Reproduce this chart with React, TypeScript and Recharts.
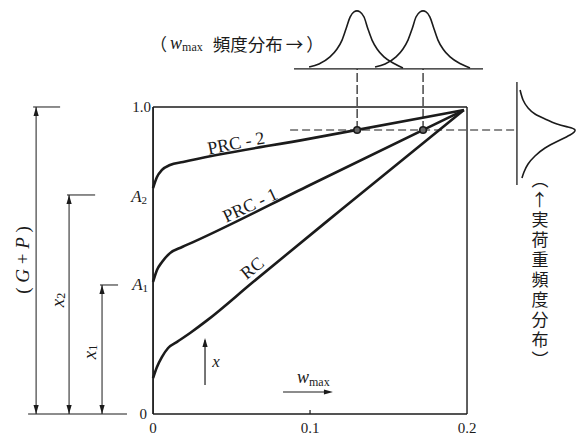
import React from "react";
import { ComposedChart, Line, XAxis, YAxis, ReferenceLine, ReferenceDot } from "recharts";

const W = 578;
const H = 437;
const SERIF = "'Liberation Serif', 'DejaVu Serif', serif";
const CJK = "'Noto Sans CJK JP', 'Noto Sans CJK SC', sans-serif";
const INK = "#1b1b1b";

// the whole canvas is one coordinate system (x = w_max, y = x/(G+P))
const X_DOMAIN = [-0.0975, 0.2707];
const Y_DOMAIN = [0, 1.3485];
const xTicks = [0, 0.1, 0.2];

// curves
const rcX = [0, 0.0025, 0.0057, 0.0096, 0.0153, 0.0236, 0.0344, 0.0637, 0.12, 0.198];
const rcY = [0.117, 0.153, 0.186, 0.215, 0.235, 0.264, 0.305, 0.43, 0.666, 0.99];
const prc1X = [0, 0.0025, 0.0057, 0.0108, 0.0185, 0.0255, 0.1, 0.198];
const prc1Y = [0.43, 0.469, 0.495, 0.524, 0.544, 0.56, 0.746, 0.99];
const prc2X = [0, 0.0025, 0.0057, 0.0108, 0.0191, 0.1, 0.198];
const prc2Y = [0.736, 0.772, 0.795, 0.811, 0.821, 0.897, 0.99];

// w_max frequency distributions (top)
const bellY = [1.13, 1.14, 1.163, 1.189, 1.218, 1.254, 1.293, 1.31, 1.313, 1.31, 1.293, 1.254, 1.218, 1.189, 1.163, 1.14, 1.127];
const bellAX = [0.0994, 0.1057, 0.1127, 0.1172, 0.1204, 0.1229, 0.1255, 0.128, 0.1299, 0.1318, 0.1344, 0.1369, 0.1395, 0.1427, 0.1471, 0.1541, 0.1592];
const bellBX = [0.1414, 0.1478, 0.1548, 0.1592, 0.1624, 0.165, 0.1675, 0.1701, 0.172, 0.1739, 0.1764, 0.179, 0.1815, 0.1847, 0.1892, 0.1962, 0.2019];

// actual load frequency distribution (right, sideways)
const loadX = [0.2338, 0.2357, 0.2389, 0.2433, 0.2497, 0.2573, 0.2643, 0.2688, 0.2656, 0.258, 0.2497, 0.2433, 0.2389, 0.2363, 0.235];
const loadY = [1.0554, 1.0228, 0.9967, 0.9772, 0.9609, 0.9446, 0.9349, 0.9251, 0.9088, 0.8893, 0.8664, 0.8404, 0.8143, 0.7883, 0.7687];

const rows = (xs: number[], ys: number[]) => xs.map((x, i) => ({ x, y: ys[i] }));

const loadLevel = 0.925;
const hitX = [0.13, 0.172];
const topBase = 1.124;

// dimension lines at the left: [x, top, tickFrom, tickTo]
const dims = [
  [-0.0745, 1.0, -0.0764, -0.0592],
  [-0.0535, 0.7134, -0.0548, -0.0369],
  [-0.0325, 0.4202, -0.0338, -0.0223],
];

const arrowHead = (dir: string) => (p: any) => {
  const { cx, cy } = p;
  const L = 9;
  const w = 2.6;
  let d = "";
  if (dir === "up") d = `M${cx},${cy} L${cx - w},${cy + L} L${cx + w},${cy + L} Z`;
  if (dir === "down") d = `M${cx},${cy} L${cx - w},${cy - L} L${cx + w},${cy - L} Z`;
  if (dir === "right") d = `M${cx},${cy} L${cx - L},${cy - w} L${cx - L},${cy + w} Z`;
  return <path d={d} fill={INK} />;
};

const seg = (x1: number, y1: number, x2: number, y2: number, key: string, w = 1, dash?: string) => (
  <ReferenceLine
    key={key}
    segment={[{ x: x1, y: y1 }, { x: x2, y: y2 }]}
    stroke={INK}
    strokeWidth={w}
    strokeDasharray={dash}
    ifOverflow="visible"
  />
);

const note = (x: number, y: number, key: string, draw: (cx: number, cy: number) => React.ReactElement) => (
  <ReferenceDot key={key} x={x} y={y} r={1} ifOverflow="visible" shape={(p: any) => draw(p.cx, p.cy)} />
);

const arrow = (x: number, y: number, dir: string, key: string) => (
  <ReferenceDot key={key} x={x} y={y} r={1} ifOverflow="visible" shape={arrowHead(dir)} />
);

const curveLabels = [
  { t: "PRC - 2", x: 0.0529, y: 0.8827, a: -11 },
  { t: "PRC - 1", x: 0.0618, y: 0.6808, a: -25 },
  { t: "RC", x: 0.0631, y: 0.4756, a: -39 },
];

const yLabels = [
  { v: 1.0, t: "1.0", sub: "", dx: -2 },
  { v: 0, t: "0", sub: "", dx: -6 },
  { v: 0.71, t: "A", sub: "2", dx: -6 },
  { v: 0.423, t: "A", sub: "1", dx: -5 },
];

const sideText = "（←実荷重頻度分布）";

const curveProps = {
  dataKey: "y",
  stroke: INK,
  dot: false,
  activeDot: false,
  isAnimationActive: false,
};

export default function App() {
  return (
    <div style={{ width: W, height: H, background: "#fff" }}>
      <style>{"body{margin:0}"}</style>
      <ComposedChart width={W} height={H} margin={{ top: 0, right: 0, bottom: 0, left: 0 }}>
        <XAxis
          type="number"
          dataKey="x"
          domain={X_DOMAIN}
          ticks={xTicks}
          interval={0}
          height={23}
          axisLine={false}
          tickLine={false}
          tick={{ fill: INK, fontSize: 15, fontFamily: SERIF }}
          tickFormatter={(v) => (v === 0 ? "0" : Number(v).toFixed(1))}
        />
        <YAxis type="number" domain={Y_DOMAIN} hide />

        {/* frame */}
        {seg(0, 0, 0, 1, "fl", 1.8)}
        {seg(0, 1, 0.2, 1, "ft", 1.4)}
        {seg(0.2, 0, 0.2, 1, "fr", 1.4)}
        {seg(0, 0, 0.2, 0, "fb", 1.6)}
        {seg(0.1, 0, 0.1, 0.013, "t01", 1.2)}

        {/* dashed guides */}
        {seg(0.0873, loadLevel, 0.2318, loadLevel, "hl", 1.2, "8 4")}
        {hitX.map((x, i) => seg(x, loadLevel, x, topBase, `vd${i}`, 1.2, "9 3"))}

        {/* distributions */}
        {seg(0.0898, topBase, 0.2102, topBase, "tb", 1.3)}
        {seg(0.2318, 0.7459, 0.2318, 1.0814, "rb", 1.3)}
        <Line {...curveProps} data={rows(bellAX, bellY)} type="monotoneX" strokeWidth={1.6} />
        <Line {...curveProps} data={rows(bellBX, bellY)} type="monotoneX" strokeWidth={1.6} />
        <Line {...curveProps} data={rows(loadX, loadY)} type="natural" strokeWidth={1.6} />

        {/* curves */}
        <Line {...curveProps} data={rows(rcX, rcY)} type="monotoneX" strokeWidth={2.6} />
        <Line {...curveProps} data={rows(prc1X, prc1Y)} type="monotoneX" strokeWidth={2.6} />
        <Line {...curveProps} data={rows(prc2X, prc2Y)} type="monotoneX" strokeWidth={2.6} />

        {hitX.map((x, i) => (
          <ReferenceDot key={`hit${i}`} x={x} y={loadLevel} r={3.3} fill="#666" stroke={INK} strokeWidth={1.6} ifOverflow="visible" />
        ))}

        {/* dimension lines */}
        {seg(-0.0796, 0, -0.0166, 0, "db", 1)}
        {dims.map((d, i) => seg(d[0], 0, d[0], d[1], `dv${i}`, 1))}
        {dims.map((d, i) => seg(d[2], d[1], d[3], d[1], `dt${i}`, 1))}
        {dims.map((d, i) => arrow(d[0], d[1], "up", `au${i}`))}
        {dims.map((d, i) => arrow(d[0], 0, "down", `ad${i}`))}

        {/* x and w_max direction arrows */}
        {seg(0.0331, 0.0945, 0.0331, 0.24, "xa", 1.2)}
        {arrow(0.0331, 0.2476, "up", "xah")}
        {seg(0.0828, 0.0717, 0.11, 0.0717, "wa", 1.2)}
        {arrow(0.1146, 0.0717, "right", "wah")}

        {/* text */}
        {curveLabels.map((l) =>
          note(l.x, l.y, l.t, (cx, cy) => (
            <text x={cx} y={cy} textAnchor="middle" dominantBaseline="central" fontFamily={SERIF} fontSize={18} fill={INK} transform={`rotate(${l.a} ${cx} ${cy})`}>
              {l.t}
            </text>
          ))
        )}
        {yLabels.map((l) =>
          note(0, l.v, `y${l.t}${l.sub}`, (cx, cy) => (
            <text x={cx + l.dx} y={cy} textAnchor="end" dominantBaseline="central" fontFamily={SERIF} fontSize={l.sub ? 17 : 15} fill={INK}>
              {l.sub ? (
                <>
                  <tspan fontStyle="italic">{l.t}</tspan>
                  <tspan fontSize={11} dy={4}>{l.sub}</tspan>
                </>
              ) : (
                l.t
              )}
            </text>
          ))
        )}
        {note(0.0401, 0.1726, "xlab", (cx, cy) => (
          <text x={cx} y={cy} textAnchor="middle" dominantBaseline="central" fontFamily={SERIF} fontStyle="italic" fontSize={17} fill={INK}>x</text>
        ))}
        {note(0.0917, 0.101, "wlab", (cx, cy) => (
          <text x={cx} y={cy} fontFamily={SERIF} fill={INK}>
            <tspan fontStyle="italic" fontSize={18}>w</tspan>
            <tspan fontSize={12} dy={3}>max</tspan>
          </text>
        ))}
        {note(-0.0834, 0.5016, "gp", (cx, cy) => (
          <text x={cx} y={cy} textAnchor="middle" dominantBaseline="central" fontFamily={SERIF} fontSize={19} fill={INK} transform={`rotate(-90 ${cx} ${cy})`}>
            ( <tspan fontStyle="italic">G</tspan> + <tspan fontStyle="italic">P</tspan> )
          </text>
        ))}
        {[
          { x: -0.0611, y: 0.3713, s: "2" },
          { x: -0.0408, y: 0.202, s: "1" },
        ].map((d) =>
          note(d.x, d.y, `xs${d.s}`, (cx, cy) => (
            <text x={cx} y={cy} textAnchor="middle" dominantBaseline="central" fontFamily={SERIF} fontSize={19} fill={INK} transform={`rotate(-90 ${cx} ${cy})`}>
              <tspan fontStyle="italic">x</tspan>
              <tspan fontSize={12} dy={4}>{d.s}</tspan>
            </text>
          ))
        )}
        {note(-0.0019, 1.2085, "toplab", (cx, cy) => (
          <text x={cx} y={cy} dominantBaseline="central" fill={INK}>
            <tspan fontFamily={CJK} fontSize={17}>（</tspan>
            <tspan fontFamily={SERIF} fontStyle="italic" fontSize={18} dx={3}>w</tspan>
            <tspan fontFamily={SERIF} fontSize={12} dy={4}>max</tspan>
            <tspan fontFamily={CJK} fontSize={17.5} dy={-4} dx={10}>頻度分布</tspan>
            <tspan fontFamily={CJK} fontSize={17.5} dx={3}>→</tspan>
            <tspan fontFamily={CJK} fontSize={17.5} dx={3}>）</tspan>
          </text>
        ))}
        {note(0.2465, 0.7915, "sidelab", (cx, cy) => (
          <text x={cx} y={cy} fontFamily={CJK} fontSize={17} letterSpacing={3} fill={INK} style={{ writingMode: "vertical-rl" }}>
            {sideText}
          </text>
        ))}
      </ComposedChart>
    </div>
  );
}
